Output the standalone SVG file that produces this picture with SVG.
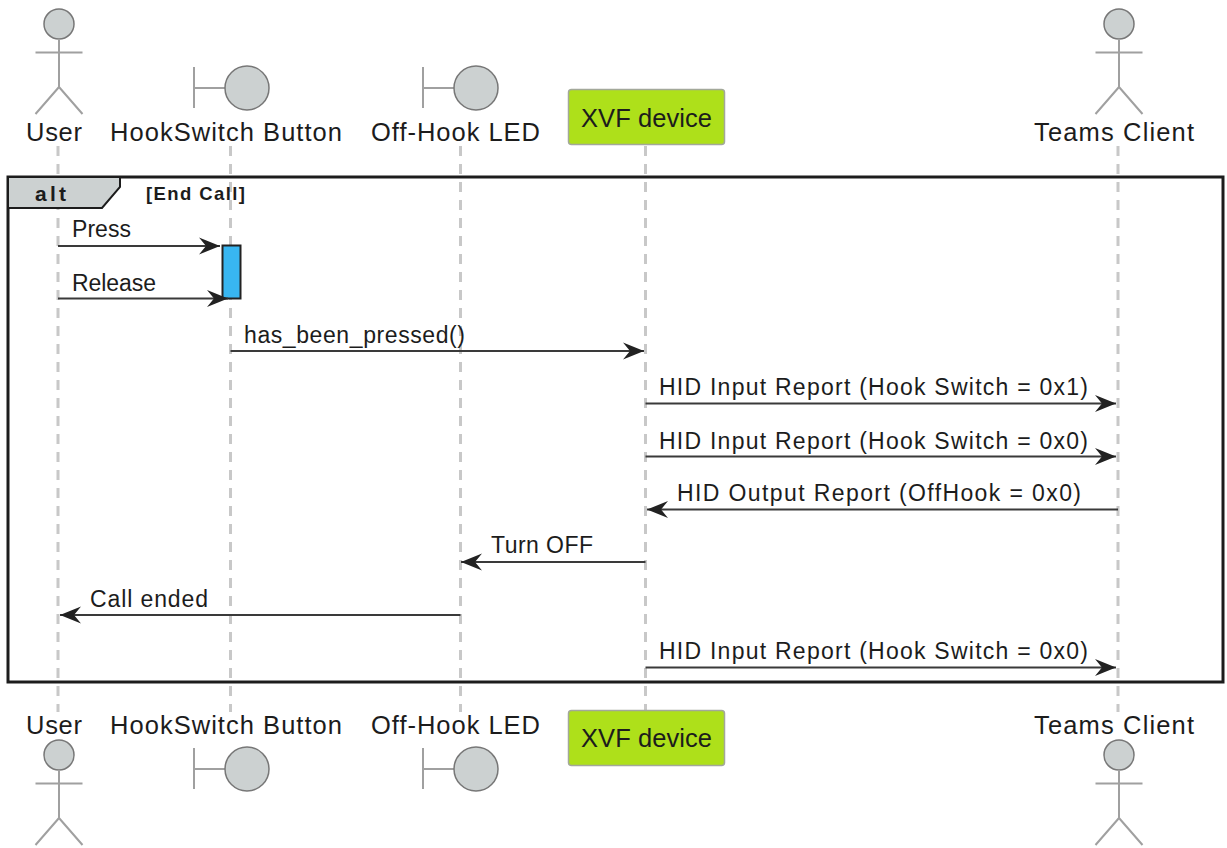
<svg xmlns="http://www.w3.org/2000/svg" width="1227" height="848" viewBox="0 0 1227 848">
<style>
text{font-family:"Liberation Sans",Arial,sans-serif;fill:#1c1c1c}
.p{font-size:25.500px}
.m{font-size:23px}
.life{stroke:#c8c8c8;stroke-width:3;stroke-dasharray:10 8;fill:none}
.msg{stroke:#3a3a3a;stroke-width:2;fill:none}
.icon{stroke:#a0a0a0;stroke-width:2;fill:none}
.head{fill:#ccd1d1;stroke:#777;stroke-width:1.500}
.box{fill:#aee01a;stroke:#a3a89a;stroke-width:1.500}
</style>
<defs>
<marker id="arr" markerUnits="userSpaceOnUse" markerWidth="24" markerHeight="20" refX="21" refY="9" orient="auto-start-reverse" viewBox="0 0 24 18">
<path d="M0 0.500L21 9L0 17.500L7 9Z" fill="#222"/>
</marker>
<g id="actor"><circle class="head" cx="0" cy="24" r="15"/><path class="icon" d="M0 39V87M-23.500 52.500H23.500M0 87L-23.500 114M0 87L23.500 114"/></g>
<g id="boundary"><path class="icon" d="M-46 67V108M-46 88H-15"/><circle class="head" cx="7" cy="88" r="22"/></g>
</defs>
<rect width="1227" height="848" fill="#fff"/>
<g id="lifelines">
<path class="life" d="M58 146V712"/><path class="life" d="M230.500 146V712"/><path class="life" d="M460.500 146V712"/><path class="life" d="M645.500 146V712"/><path class="life" d="M1118 146V712"/>
</g>
<g id="frame">
<rect x="8" y="177" width="1215" height="505" fill="none" stroke="#1c1c1c" stroke-width="3"/>
<path d="M8 177H120V187L102 208H8Z" fill="#ccd1d1" stroke="#1c1c1c" stroke-width="2"/>
<text x="35" y="201" font-size="21px" font-weight="700" textLength="31">alt</text>
<text x="146" y="200" font-size="18.500px" font-weight="700" textLength="99">[End Call]</text>
</g>
<g id="activation"><rect x="222.500" y="245.500" width="18" height="53" fill="#38b6f1" stroke="#222" stroke-width="2"/></g>
<g id="connectors">
<path class="msg" marker-end="url(#arr)" d="M58 246H220"/>
<path class="msg" marker-end="url(#arr)" d="M58 298.500H228"/>
<path class="msg" marker-end="url(#arr)" d="M230.500 351H644"/>
<path class="msg" marker-end="url(#arr)" d="M645.500 403.500H1116"/>
<path class="msg" marker-end="url(#arr)" d="M645.500 456.500H1116"/>
<path class="msg" marker-end="url(#arr)" d="M1118 509.500H647"/>
<path class="msg" marker-end="url(#arr)" d="M645.500 562H461"/>
<path class="msg" marker-end="url(#arr)" d="M460.500 615H60"/>
<path class="msg" marker-end="url(#arr)" d="M645.500 667.500H1116"/>
</g>
<g id="labels">
<text class="m" x="72" y="237" textLength="59">Press</text>
<text class="m" x="72" y="291" textLength="84">Release</text>
<text class="m" x="244" y="343" textLength="221">has_been_pressed()</text>
<text class="m" x="659" y="395" textLength="429">HID Input Report (Hook Switch = 0x1)</text>
<text class="m" x="659" y="449" textLength="429">HID Input Report (Hook Switch = 0x0)</text>
<text class="m" x="677" y="501" textLength="404">HID Output Report (OffHook = 0x0)</text>
<text class="m" x="491" y="553" textLength="102">Turn OFF</text>
<text class="m" x="90" y="607" textLength="118">Call ended</text>
<text class="m" x="659" y="659" textLength="429">HID Input Report (Hook Switch = 0x0)</text>
</g>
<g id="user-top"><use href="#actor" x="59" y="0"/><text class="p" x="26" y="141" textLength="56">User</text></g>
<g id="hook-top"><use href="#boundary" x="240" y="0"/><text class="p" x="110" y="141" textLength="232">HookSwitch Button</text></g>
<g id="led-top"><use href="#boundary" x="469" y="0"/><text class="p" x="371" y="141" textLength="169">Off-Hook LED</text></g>
<g id="xvf-top"><rect class="box" x="568.500" y="89.500" width="156" height="55" rx="3"/><text class="p" x="581" y="127" textLength="131">XVF device</text></g>
<g id="teams-top"><use href="#actor" x="1119" y="0"/><text class="p" x="1034" y="141" textLength="160">Teams Client</text></g>
<g id="user-bottom"><use href="#actor" x="59" y="731"/><text class="p" x="26" y="734" textLength="56">User</text></g>
<g id="hook-bottom"><use href="#boundary" x="240" y="681"/><text class="p" x="110" y="734" textLength="232">HookSwitch Button</text></g>
<g id="led-bottom"><use href="#boundary" x="469" y="681"/><text class="p" x="371" y="734" textLength="169">Off-Hook LED</text></g>
<g id="xvf-bottom"><rect class="box" x="568.500" y="710.500" width="156" height="55" rx="3"/><text class="p" x="581" y="747" textLength="131">XVF device</text></g>
<g id="teams-bottom"><use href="#actor" x="1119" y="731"/><text class="p" x="1034" y="734" textLength="160">Teams Client</text></g>
</svg>
